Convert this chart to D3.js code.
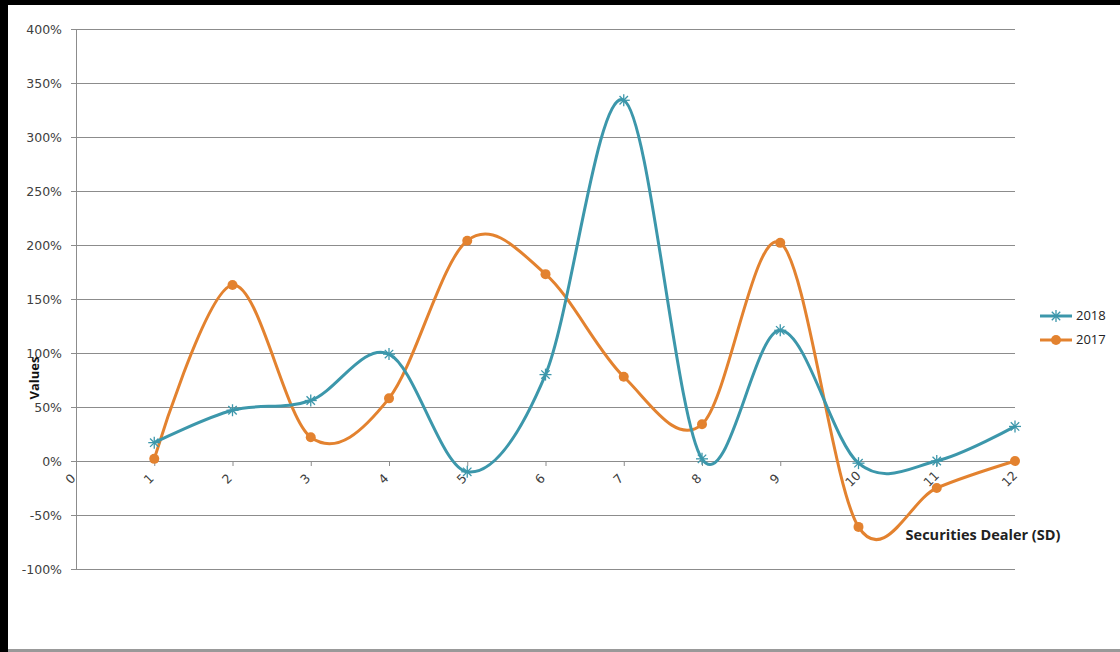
<!DOCTYPE html>
<html><head><meta charset="utf-8">
<script src="https://cdn.jsdelivr.net/npm/d3@7"></script>
<style>body{margin:0;background:#fff;}svg{display:block;}</style>
</head><body>
<svg id="c" width="1120" height="652"></svg>
<script>
const dealers = [1,2,3,4,5,6,7,8,9,10,11,12];
const xTicks = [0,1,2,3,4,5,6,7,8,9,10,11,12];
const yTicks = [-1,-0.5,0,0.5,1,1.5,2,2.5,3,3.5,4];
const series2018 = [0.17,0.47,0.56,0.99,-0.10,0.80,3.34,0.02,1.21,-0.02,0.00,0.32];
const series2017 = [0.02,1.63,0.22,0.58,2.04,1.73,0.78,0.34,2.02,-0.61,-0.25,0.00];
const seriesNames = ["2018","2017"];
const colors = {"2018":"#3c97ab","2017":"#e3822f"};

const svg = d3.select("#c");
const font = "'DejaVu Sans', sans-serif";
const tfont = "'Open Sans', 'DejaVu Sans', sans-serif";
svg.append("rect").attr("width",1120).attr("height",652).attr("fill","#fff");
// frame
svg.append("rect").attr("x",0).attr("y",0).attr("width",1120).attr("height",5).attr("fill","#000");
svg.append("rect").attr("x",0).attr("y",0).attr("width",8).attr("height",652).attr("fill","#000");
svg.append("rect").attr("x",8).attr("y",649).attr("width",1112).attr("height",3).attr("fill","#999");

const x = d3.scaleLinear().domain([0,12]).range([76,1015]);
const y = d3.scaleLinear().domain([-1,4]).range([569,29]);

// gridlines
svg.append("g").selectAll("line").data(yTicks).join("line")
  .attr("x1",x(0)).attr("x2",x(12)).attr("y1",d=>y(d)).attr("y2",d=>y(d))
  .attr("stroke","#8c8c8c").attr("stroke-width",1).attr("shape-rendering","crispEdges");

// y axis
const yAxis = d3.axisLeft(y).tickValues(yTicks).tickFormat(d=>Math.round(d*100)+"%").tickSize(5).tickPadding(10);
const gy = svg.append("g").attr("transform",`translate(${x(0)},0)`).call(yAxis);
gy.select(".domain").attr("stroke","#8c8c8c").attr("shape-rendering","crispEdges");
gy.selectAll(".tick line").attr("stroke","#8c8c8c");
gy.selectAll("text").attr("font-family",font).attr("font-size",12.5).attr("fill","#404040").attr("x",-14);

// x axis at 0
const xAxis = d3.axisBottom(x).tickValues(xTicks).tickFormat(d3.format("d")).tickSize(5);
const gx = svg.append("g").attr("transform",`translate(0,${y(0)})`).call(xAxis);
gx.select(".domain").attr("stroke","#8c8c8c").attr("shape-rendering","crispEdges");
gx.selectAll(".tick line").attr("stroke","#8c8c8c");
gx.selectAll("text").attr("font-family",font).attr("font-size",12.5).attr("fill","#404040")
  .attr("text-anchor","middle").attr("dy",null).attr("y",0)
  .attr("transform","translate(-3,21) rotate(-45)");

// lines
const line = d3.line().x((d,i)=>x(dealers[i])).y(d=>y(d)).curve(d3.curveCardinal.tension(0));
const data = {"2018":series2018,"2017":series2017};
["2017","2018"].forEach(name=>{
  svg.append("path").datum(data[name]).attr("d",line).attr("fill","none")
    .attr("stroke",colors[name]).attr("stroke-width",3).attr("stroke-linejoin","round");
});
function star(g, cx, cy, c){
  const r=6;
  [[-r,0,r,0],[-r*0.7,-r*0.7,r*0.7,r*0.7],[-r*0.7,r*0.7,r*0.7,-r*0.7],[0,-r,0,r]].forEach(s=>{
    g.append("line").attr("x1",cx+s[0]).attr("y1",cy+s[1]).attr("x2",cx+s[2]).attr("y2",cy+s[3])
      .attr("stroke",c).attr("stroke-width",1.3);
  });
}
const g18 = svg.append("g");
series2018.forEach((v,i)=>star(g18,x(dealers[i]),y(v),colors["2018"]));
svg.append("g").selectAll("circle").data(series2017).join("circle")
  .attr("cx",(d,i)=>x(dealers[i])).attr("cy",d=>y(d)).attr("r",5).attr("fill",colors["2017"]);

// titles
svg.append("text").attr("transform","translate(39,378) rotate(-90)").attr("text-anchor","middle")
  .attr("font-family",tfont).attr("font-size",13).attr("font-weight","bold").attr("fill","#111").text("Values");
svg.append("text").attr("x",983).attr("y",540).attr("text-anchor","middle")
  .attr("font-family",tfont).attr("font-size",14.5).attr("font-weight","bold").attr("fill","#222").text("Securities Dealer (SD)");

// legend
const leg = svg.append("g");
seriesNames.forEach((name,i)=>{
  const ly = 316 + i*24;
  leg.append("line").attr("x1",1040).attr("x2",1072).attr("y1",ly).attr("y2",ly).attr("stroke",colors[name]).attr("stroke-width",3);
  if(name==="2018") star(leg,1056,ly,colors[name]);
  else leg.append("circle").attr("cx",1056).attr("cy",ly).attr("r",5).attr("fill",colors[name]);
  leg.append("text").attr("x",1076).attr("y",ly+4).attr("font-family",tfont).attr("font-size",13).attr("fill","#222").text(name);
});
</script>
</body></html>
